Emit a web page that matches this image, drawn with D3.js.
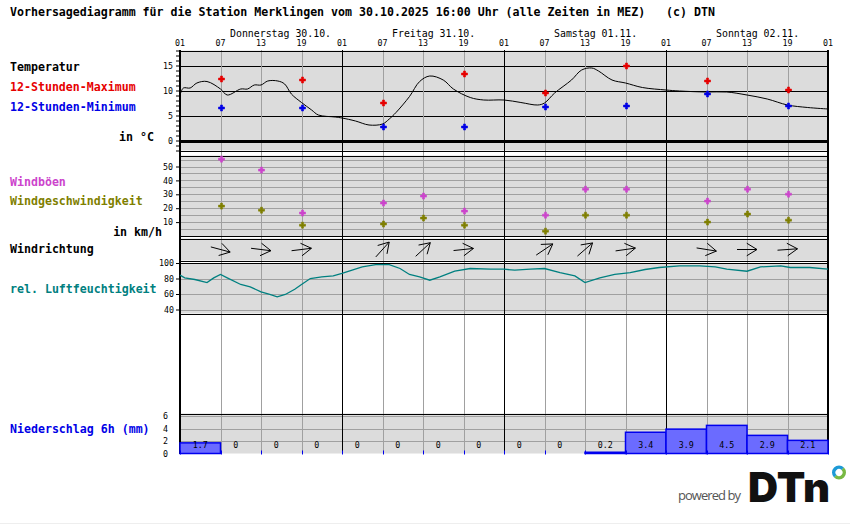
<!DOCTYPE html>
<html>
<head>
<meta charset="utf-8">
<script src="https://d3js.org/d3.v7.min.js"></script>
<style>
body { margin: 0; background: #fff; }
text { font-family: "DejaVu Sans Mono", monospace; }
</style>
</head>
<body>
<div id="my_meteogram"></div>
<script>

// ---- data ----
var dayLabels = ["Donnerstag 30.10.", "Freitag 31.10.", "Samstag 01.11.", "Sonntag 02.11."];
var hourLabels = ["01", "07", "13", "19"];

// hours since Thu 01:00
var tempHours  = [0, 0.5, 1.5, 2.5, 4, 6, 7, 9, 10, 11, 12, 13, 14.5, 15.5, 16.5, 18, 19.5, 20.5, 23, 24,
                  26, 28, 30, 31, 32, 34, 35.5, 37, 39, 40.5, 43, 45, 48, 50.5, 53, 54, 55.5, 58, 59.5, 61,
                  62, 64, 66, 68.5, 72, 74, 78, 81, 84, 87, 90, 93, 96];
var tempValues = [9.1, 10.5, 10.5, 11.5, 11.8, 10.3, 9.1, 10.3, 10.3, 11.1, 11.1, 11.9, 11.9, 11.3, 9.3, 7.6, 6.1, 5.1, 4.7, 4.5,
                  3.9, 3.1, 3.3, 4.3, 5.6, 8.8, 11.8, 12.9, 12.1, 10.3, 8.6, 8.1, 8.1, 7.6, 7.1, 7.5, 9.5, 12.1, 14.1, 14.5,
                  13.9, 12.1, 11.5, 10.6, 10.1, 9.9, 9.7, 9.7, 9.1, 8.3, 7.1, 6.6, 6.3];

var extremeHours = [6, 18, 30, 42, 54, 66, 78, 90];
var maxValues = [12.3, 12.1, 7.5, 13.3, 9.5, 14.9, 11.9, 10.1];
var minValues = [6.5, 6.5, 2.7, 2.7, 6.7, 6.9, 9.3, 6.9];

var windHours   = [6, 12, 18, 30, 36, 42, 54, 60, 66, 78, 84, 90];
var gustValues  = [55.3, 47.4, 16.5, 23.7, 28.7, 17.9, 15, 33.7, 33.7, 25.1, 33.7, 30.1];
var speedValues = [21.5, 18.6, 7.8, 8.6, 12.9, 7.8, 3.5, 15, 15, 10, 15.8, 11.4];
var windDirs    = [285, 277, 263, 222, 227, 264, 236, 229, 262, 279, 270, 266];

var humHours  = [0, 0.7, 2.2, 4, 5, 6, 7, 9, 10.4, 12, 13.3, 14.4, 15.6, 17, 18, 19.3, 21, 22.7, 24, 25.5,
                 27, 29, 31, 32.6, 34, 35.5, 37, 38.5, 40.7, 43, 46, 48, 49.6, 51.9, 54, 56.3, 58.5, 60, 62.2,
                 64.4, 66.7, 68.9, 71, 74, 77, 79.3, 81, 84, 86, 89, 90.4, 93.3, 96];
var humValues = [84.3, 80.8, 78.7, 74.8, 80.8, 85.2, 80.8, 72.3, 69.2, 62.7, 59.4, 56.3, 59.4, 66.2, 72.3, 80, 82.1, 83.4, 86.5, 90.7,
                 95, 98, 98, 92.9, 85.2, 82, 77.8, 82, 89.4, 92.9, 92, 92, 90.7, 92, 92.9, 87.7, 83.4, 74.8, 80.8,
                 85.2, 87.7, 91.6, 94.2, 96.3, 96.3, 95, 92, 89.4, 95, 96.3, 94.2, 94.2, 92];

var precipValues = [1.7, 0, 0, 0, 0, 0, 0, 0, 0, 0, 0.2, 3.4, 3.9, 4.5, 2.9, 2.1];

// ---- layout ----
var width = 850, height = 524;
var left = 180, right = 828;

var svg = d3.select("#my_meteogram")
  .append("svg")
    .attr("width", width)
    .attr("height", height);

var x = d3.scaleLinear().domain([0, 96]).range([left, right]);
var yT = d3.scaleLinear().domain([0, 15]).range([140.5, 65.5]);
var yW = d3.scaleLinear().domain([0, 50]).range([236, 166.5]);
var yH = d3.scaleLinear().domain([40, 100]).range([309.5, 263]);
var yP = d3.scaleLinear().domain([0, 6]).range([453.5, 416]);

var panels = [
  {top: 50.5, bottom: 150.5},
  {top: 155.5, bottom: 236},
  {top: 238.5, bottom: 260.5},
  {top: 263, bottom: 313.5},
  {top: 413.5, bottom: 453.5}
];

var bg = "#dcdcdc", grid = "#a0a0a0";

svg.append("rect").attr("x", 0).attr("y", 0).attr("width", width).attr("height", height).attr("fill", "#fff");

// panel backgrounds
svg.selectAll(".panel")
  .data(panels)
  .enter()
  .append("rect")
    .attr("x", left)
    .attr("y", function(d) { return d.top; })
    .attr("width", right - left)
    .attr("height", function(d) { return d.bottom - d.top; })
    .attr("fill", bg);

function hline(y, color, w) {
  svg.append("line")
    .attr("x1", left).attr("x2", right)
    .attr("y1", y).attr("y2", y)
    .attr("stroke", color)
    .attr("stroke-width", w || 1)
    .attr("shape-rendering", "crispEdges");
}

// horizontal grid lines
[5, 10, 15].forEach(function(v) { hline(Math.round(yT(v)) + 0.5, "#000"); });
d3.range(5, 60, 5).forEach(function(v) { hline(Math.round(yW(v)) + 0.5, grid); });
[40, 60, 80].forEach(function(v) { hline(Math.round(yH(v)) + 0.5, grid); });
[2, 4, 6].forEach(function(v) { hline(Math.round(yP(v)) + 0.5, grid); });

// vertical lines every 6 hours, black at day change
var vHours = d3.range(6, 96, 6);
svg.selectAll(".vline")
  .data(vHours)
  .enter()
  .append("line")
    .attr("x1", function(d) { return Math.round(x(d)) + 0.5; })
    .attr("x2", function(d) { return Math.round(x(d)) + 0.5; })
    .attr("y1", 50)
    .attr("y2", 453.5)
    .attr("stroke", function(d) { return d % 24 === 0 ? "#000" : grid; })
    .attr("stroke-width", function(d) { return d % 24 === 0 ? 1.5 : 1; })
    .attr("shape-rendering", "crispEdges");

// panel borders
panels.forEach(function(p, i) {
  hline(Math.round(p.top) + 0.5, "#000", 1.5);
  if (i < 4) hline(Math.round(p.bottom) + 0.5, "#000", 1.5);
});
hline(Math.round(yT(0)), "#000", 3);

[left, right].forEach(function(xx) {
  svg.append("line")
    .attr("x1", xx).attr("x2", xx)
    .attr("y1", 50).attr("y2", 453.5)
    .attr("stroke", "#000").attr("stroke-width", 2)
    .attr("shape-rendering", "crispEdges");
});

// axes
function styleAxis(g) {
  g.select(".domain").remove();
  g.selectAll("text").style("font-family", "DejaVu Sans Mono").style("font-size", "8.3px").attr("fill", "#000");
  g.selectAll("line").attr("stroke", "#000");
}
svg.append("g")
  .attr("transform", "translate(" + left + ",0)")
  .call(d3.axisLeft(yT).tickValues(d3.range(-2, 19)).tickSize(4).tickPadding(3)
    .tickFormat(function(d) { return d % 5 === 0 ? d : ""; }))
  .call(styleAxis);
svg.append("g")
  .attr("transform", "translate(" + left + ",0)")
  .call(d3.axisLeft(yW).tickValues([10, 20, 30, 40, 50]).tickSize(4).tickPadding(3))
  .call(styleAxis);
svg.append("g")
  .attr("transform", "translate(" + left + ",0)")
  .call(d3.axisLeft(yH).tickValues([40, 60, 80, 100]).tickSize(4).tickPadding(2))
  .call(styleAxis);
svg.append("g")
  .attr("transform", "translate(" + left + ",0)")
  .call(d3.axisLeft(yP).tickValues([0, 2, 4, 6]).tickSize(0).tickPadding(12).tickFormat(d3.format("d")))
  .call(styleAxis);

// top: hour and day labels
svg.selectAll(".hour")
  .data(d3.range(0, 97, 6))
  .enter()
  .append("text")
    .attr("x", function(d) { return x(d); })
    .attr("y", 46)
    .attr("text-anchor", "middle")
    .style("font-size", "8.3px")
    .text(function(d) { return hourLabels[(d / 6) % 4]; });

svg.selectAll(".day")
  .data(dayLabels)
  .enter()
  .append("text")
    .attr("x", function(d, i) { return x(i * 24) + 50; })
    .attr("y", 37)
    .style("font-size", "9.9px")
    .text(function(d) { return d; });

// title and legend texts
var labels = [
  {t: "Vorhersagediagramm für die Station Merklingen vom 30.10.2025 16:00 Uhr (alle Zeiten in MEZ)   (c) DTN", y: 16, c: "#000"},
  {t: "Temperatur", y: 71, c: "#000"},
  {t: "12-Stunden-Maximum", y: 91, c: "#e60000"},
  {t: "12-Stunden-Minimum", y: 111, c: "#0000e6"},
  {t: "Windböen", y: 186, c: "#cc44cc"},
  {t: "Windgeschwindigkeit", y: 205, c: "#7f7f00"},
  {t: "Windrichtung", y: 253, c: "#000"},
  {t: "rel. Luftfeuchtigkeit", y: 293, c: "#008080"},
  {t: "Niederschlag 6h (mm)", y: 433, c: "#0000e6"}
];
svg.selectAll(".lab")
  .data(labels)
  .enter()
  .append("text")
    .attr("x", 10)
    .attr("y", function(d) { return d.y; })
    .attr("fill", function(d) { return d.c; })
    .style("font-size", "11.6px")
    .style("font-weight", "bold")
    .style("white-space", "pre")
    .text(function(d) { return d.t; });

svg.append("text").attr("x", 154).attr("y", 141).attr("text-anchor", "end")
  .style("font-size", "11.6px").style("font-weight", "bold").text("in °C");
svg.append("text").attr("x", 162).attr("y", 236).attr("text-anchor", "end")
  .style("font-size", "11.6px").style("font-weight", "bold").text("in km/h");

// temperature curve
var tempData = tempHours.map(function(h, i) { return [h, tempValues[i]]; });
svg.append("path")
  .datum(tempData)
  .attr("fill", "none")
  .attr("stroke", "#000")
  .attr("stroke-width", 1)
  .attr("d", d3.line()
    .x(function(d) { return x(d[0]); })
    .y(function(d) { return yT(d[1]); })
    .curve(d3.curveCatmullRom.alpha(0.5)));

var cross = d3.symbol().type(d3.symbolCross).size(20);
function markers(hours, values, yScale, color) {
  svg.append("g").selectAll("path")
    .data(hours)
    .enter()
    .append("path")
      .attr("d", cross)
      .attr("transform", function(d, i) { return "translate(" + (Math.round(x(d)) + 0.5) + "," + yScale(values[i]) + ")"; })
      .attr("fill", color)
      .attr("stroke", color)
      .attr("stroke-width", 0.6);
}
markers(extremeHours, maxValues, yT, "#e60000");
markers(extremeHours, minValues, yT, "#0000e6");
markers(windHours, gustValues, yW, "#cc44cc");
markers(windHours, speedValues, yW, "#7f7f00");

// wind direction arrows
var arrowY = 249.5;
svg.append("g").selectAll("path")
  .data(windHours)
  .enter()
  .append("path")
    .attr("fill", "none")
    .attr("stroke", "#000")
    .attr("stroke-width", 1)
    .attr("d", function(d, i) {
      var a = (windDirs[i] + 180) * Math.PI / 180;
      var dx = Math.sin(a), dy = -Math.cos(a);
      var cx = x(d), L = 10, W = 12, s = 0.55;
      var tipX = cx + dx * L, tipY = arrowY + dy * L;
      var p = d3.path();
      p.moveTo(cx - dx * L, arrowY - dy * L);
      p.lineTo(tipX, tipY);
      [s, -s].forEach(function(r) {
        var bx = -(dx * Math.cos(r) - dy * Math.sin(r));
        var by = -(dx * Math.sin(r) + dy * Math.cos(r));
        p.moveTo(tipX, tipY);
        p.lineTo(tipX + bx * W, tipY + by * W);
      });
      return p.toString();
    });

// humidity curve
var humData = humHours.map(function(h, i) { return [h, humValues[i]]; });
svg.append("path")
  .datum(humData)
  .attr("fill", "none")
  .attr("stroke", "#008080")
  .attr("stroke-width", 1.3)
  .attr("d", d3.line()
    .x(function(d) { return x(d[0]); })
    .y(function(d) { return yH(d[1]); }));

// precipitation bars
var binW = x(6) - x(0);
svg.append("g").selectAll("rect")
  .data(precipValues)
  .enter()
  .append("rect")
    .attr("x", function(d, i) { return x(i * 6); })
    .attr("y", function(d) { return yP(d); })
    .attr("width", binW)
    .attr("height", function(d) { return yP(0) - yP(d); })
    .attr("fill", "#6b6bff")
    .attr("stroke", "#0000ee")
    .attr("stroke-width", 1.5);

svg.append("g").selectAll("line")
  .data(d3.range(0, 97, 6))
  .enter()
  .append("line")
    .attr("x1", function(d) { return Math.round(x(d)) + 0.5; })
    .attr("x2", function(d) { return Math.round(x(d)) + 0.5; })
    .attr("y1", yP(0) - 3)
    .attr("y2", yP(0) + 1)
    .attr("stroke", "#0000ee");

svg.append("g").selectAll("text")
  .data(precipValues)
  .enter()
  .append("text")
    .attr("x", function(d, i) { return x(i * 6) + binW / 2 - 7.5; })
    .attr("y", 447.5)
    .style("font-size", "8.3px")
    .text(function(d) { return d; });

// logo
svg.append("text")
  .attr("x", 678).attr("y", 500)
  .attr("fill", "#555")
  .style("font-family", "Open Sans, sans-serif")
  .style("font-size", "13px")
  .attr("textLength", 63)
  .text("powered by");
svg.append("text")
  .attr("x", 748).attr("y", 502)
  .attr("fill", "#111")
  .style("font-family", "Inter, Roboto, sans-serif")
  .style("font-weight", 900)
  .style("font-size", "41px")
  .attr("textLength", 82)
  .attr("lengthAdjust", "spacingAndGlyphs")
  .text("DTn");
var ring = d3.arc().innerRadius(3.5).outerRadius(7);
svg.append("path").attr("transform", "translate(839,472.5)")
  .attr("d", ring({startAngle: -Math.PI * 0.75, endAngle: Math.PI * 0.25})).attr("fill", "#1d9ad6");
svg.append("path").attr("transform", "translate(839,472.5)")
  .attr("d", ring({startAngle: Math.PI * 0.25, endAngle: Math.PI * 1.25})).attr("fill", "#78b943");

svg.append("line").attr("x1", 0).attr("x2", width).attr("y1", 523.5).attr("y2", 523.5)
  .attr("stroke", "#eee");

</script>
</body>
</html>
